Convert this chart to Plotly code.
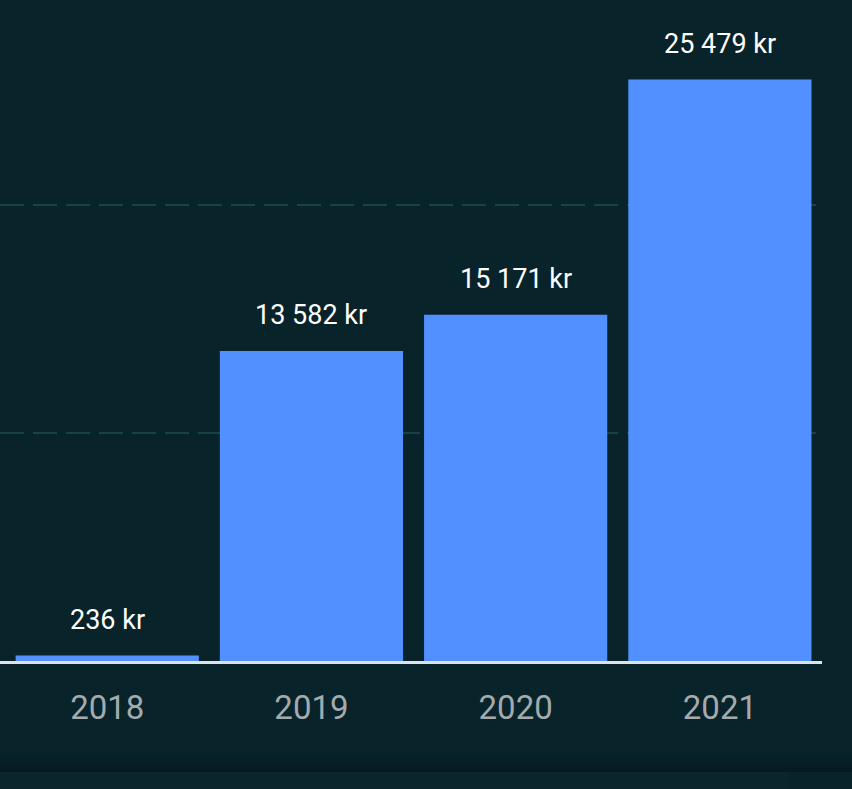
import plotly.graph_objects as go

years = ["2018", "2019", "2020", "2021"]
values = [236, 13582, 15171, 25479]
labels = [f"{v:,}".replace(",", " ") + " kr" for v in values]
grid_vals = [10000, 20000]

BG = "#08232a"
BAR = "#5290ff"

fig = go.Figure()
fig.add_trace(go.Bar(
    x=years, y=values, marker=dict(color=BAR, line=dict(width=0)),
    hoverinfo="skip",
))

for i, (v, lab) in enumerate(zip(values, labels)):
    fig.add_annotation(x=i, y=v, text=lab, showarrow=False, yanchor="bottom",
                       yshift=18, font=dict(family="Roboto", size=27, color="#ffffff"))

# bottom shadow gradient and lower card band (paper coords: px -> (661-px)/639)
def py(px):
    return (661 - px) / 639

shadow_cols = ["#08222a", "#072128", "#071f26", "#061d23", "#061b21"]
steps = [752, 756, 760, 764, 768, 772]
for c, a, b in zip(shadow_cols, steps[:-1], steps[1:]):
    fig.add_shape(type="rect", xref="paper", yref="paper", x0=-0.01, x1=1.05,
                  y0=py(b), y1=py(a), fillcolor=c, line=dict(width=0), layer="below")
fig.add_shape(type="rect", xref="paper", yref="paper", x0=-0.01, x1=0.96,
              y0=py(800), y1=py(772), fillcolor="#0a252b", line=dict(width=0), layer="below")

fig.update_layout(
    width=852, height=789,
    margin=dict(l=0, r=30, t=22, b=128),
    paper_bgcolor=BG, plot_bgcolor=BG,
    bargap=0.103,
    showlegend=False,
    font=dict(family="Roboto"),
    xaxis=dict(
        type="category", range=[-0.525, len(years) - 0.5],
        showgrid=False, showline=True, linecolor="#dbe3f0", linewidth=3,
        ticks="outside", ticklen=15, tickcolor="rgba(0,0,0,0)",
        tickfont=dict(family="Roboto", size=33, color="#a3abad"),
        fixedrange=True,
    ),
    yaxis=dict(
        range=[0, 28000], showticklabels=False, zeroline=False,
        tickvals=grid_vals, showgrid=True, gridcolor="#16424a", gridwidth=2,
        griddash="24px,9px", fixedrange=True,
    ),
)

fig.write_html(
    "out.html",
    config={"displayModeBar": False},
    post_script="document.body.style.margin='0';document.body.style.background='%s';" % BG,
)
